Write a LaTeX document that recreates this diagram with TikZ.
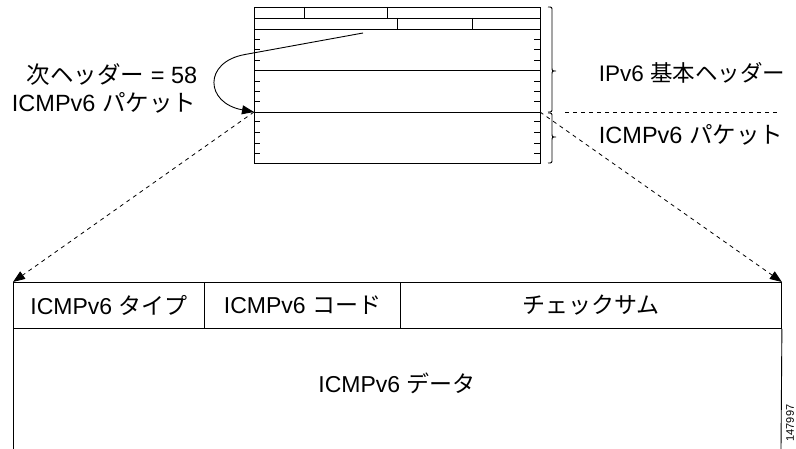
\documentclass[tikz,border=0pt]{standalone}
\usepackage{fontspec}
\setmainfont{Liberation Sans}
\newfontfamily\jp{Noto Sans CJK JP}
\usetikzlibrary{arrows.meta}
\tikzset{
  box/.style={draw, line width=0.9pt, inner sep=0pt, anchor=north west},
  thin/.style={line width=0.9pt},
  tick/.style={line width=0.7pt},
  lbl/.style={font=\fontsize{23.5}{25}\selectfont, inner sep=0pt},
  celltxt/.style={font=\fontsize{23}{25}\selectfont, inner sep=0pt},
  dasharrow/.style={dashed, dash pattern=on 4pt off 4pt, line width=0.8pt, -{Triangle[length=12pt,width=9pt]}},
  bracestyle/.style={line width=0.9pt}
}
\begin{document}
\begin{tikzpicture}[x=1pt,y=-1pt]
\useasboundingbox (0,0) rectangle (796,449);
% IPv6 header box
\node[box, minimum width=286pt, minimum height=156pt] (ipv6) at (254,7) {};
\draw[thin] (254,18) -- (540,18);
\draw[thin] (254,29) -- (540,29);
\draw[thin] (254,70) -- (540,70);
\draw[thin] (254,112) -- (540,112);
\draw[thin] (304,7) -- (304,18);
\draw[thin] (387,7) -- (387,18);
\draw[thin] (397,18) -- (397,29);
\draw[thin] (472,18) -- (472,29);
\foreach \y in {39,49,60,81,91,101,121,132,143,153}{
  \draw[tick] (254,\y) -- (260,\y);
  \draw[tick] (534,\y) -- (540,\y);
}
\coordinate (ipl) at (254,112);
\coordinate (ipr) at (540,112);
\coordinate (nh) at (363,33);
% next header curved arrow
\draw[thin, -{Triangle[length=12pt,width=9pt]}] (nh) -- (245,54.5) .. controls (203,62) and (205,103) .. (ipl);
% braces
\draw[bracestyle] (548,7) .. controls (552,7) .. (552,11) -- (552,67) .. controls (552,71) .. (556,71)
  .. controls (552,71) .. (552,75) -- (552,108) .. controls (552,112) .. (548,112);
\draw[bracestyle] (548,113) .. controls (552,113) .. (552,117) -- (552,133) .. controls (552,137) .. (556,137)
  .. controls (552,137) .. (552,141) -- (552,159) .. controls (552,163) .. (548,163);
\coordinate (dl) at (565,112);
\coordinate (dr) at (780,112);
\draw[dashed, dash pattern=on 4pt off 4pt, line width=0.8pt] (dl) -- (dr);
% labels
\node[lbl] (nhl) at (112,75) {{\jp 次ヘッダー} = 58};
\node[lbl] (nhl2) at (104,103) {ICMPv6 {\jp パケット}};
\node[lbl, font=\fontsize{22.5}{24}\selectfont] (bh) at (692,73) {IPv6 {\jp 基本ヘッダー}};
\node[lbl] (icp) at (691,135) {ICMPv6 {\jp パケット}};
% ICMPv6 format
\node[box, minimum width=191pt, minimum height=46pt] (type) at (13,282) {};
\node[box, minimum width=196pt, minimum height=46pt] (code) at (204,282) {};
\node[box, minimum width=381pt, minimum height=46pt] (csum) at (400,282) {};
\node[celltxt] at (type.center) {ICMPv6 {\jp タイプ}};
\node[celltxt] at (code.center) {ICMPv6 {\jp コード}};
\node[celltxt] at (csum.center) {\jp チェックサム};
\coordinate (dbl) at (13,449);
\coordinate (dbr) at (781,449);
\draw[thin] (type.south west) -- (dbl);
\draw[thin] (csum.south east) -- (dbr);
\node[celltxt] (data) at (397,383) {ICMPv6 {\jp データ}};
% dashed expansion arrows
\draw[dasharrow] (ipl) -- (type.north west);
\draw[dasharrow] (ipr) -- (csum.north east);
\node[rotate=90, font=\fontsize{11}{12}\selectfont, inner sep=0pt] (fig) at (790,423) {147997};
\end{tikzpicture}
\end{document}
